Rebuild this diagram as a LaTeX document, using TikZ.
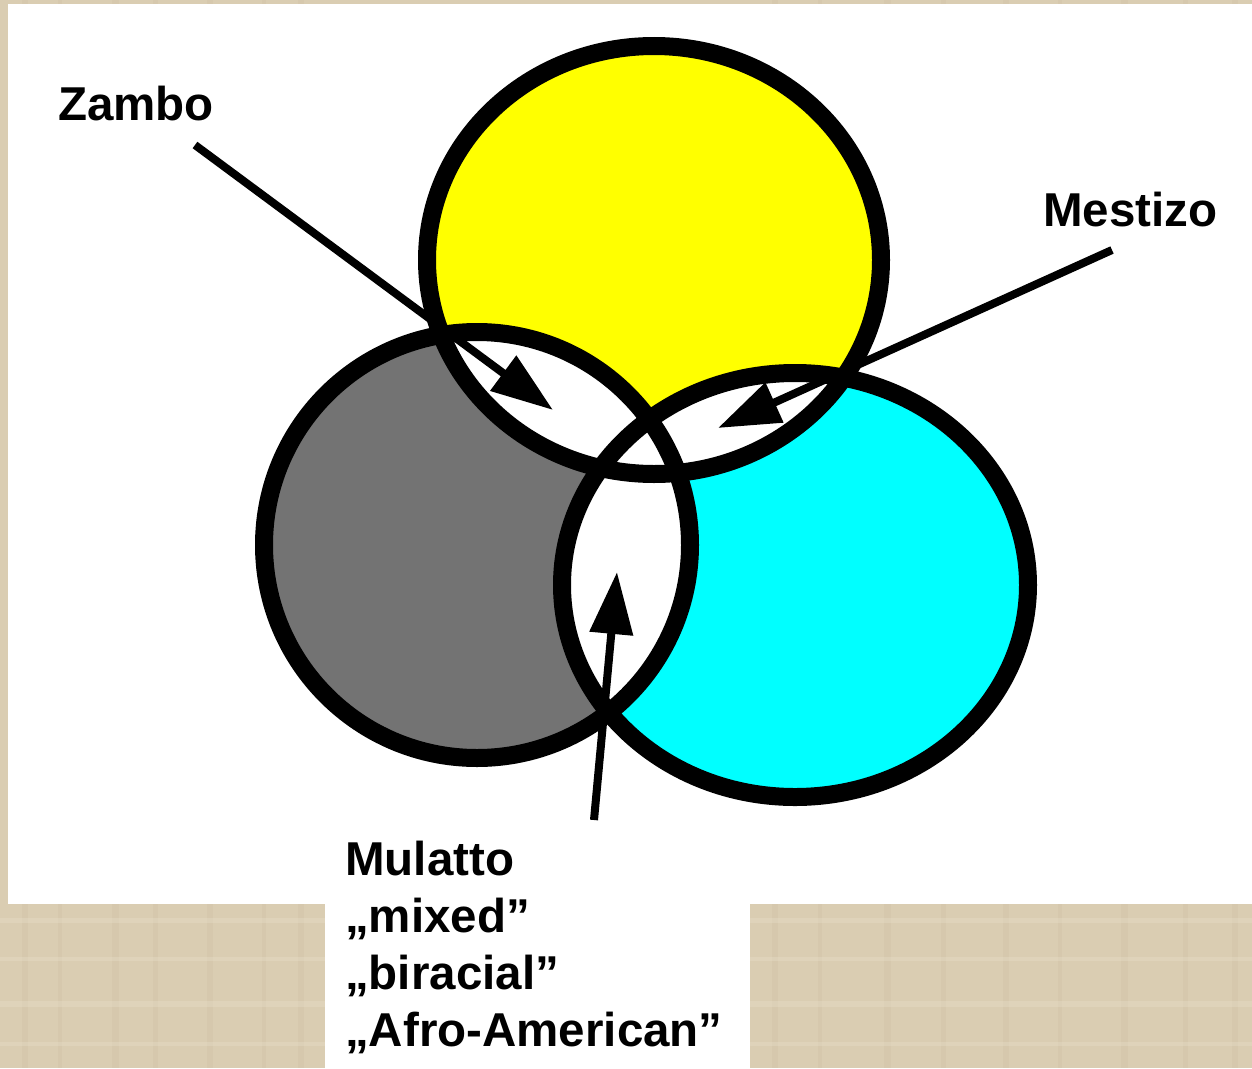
\documentclass[tikz,border=0pt]{standalone}
\usepackage{fontspec}
\setmainfont{Liberation Sans}
\usetikzlibrary{arrows.meta}
\definecolor{linen}{HTML}{DACDB2}
\definecolor{linendark}{HTML}{C9BA9C}
\definecolor{linenlight}{HTML}{EDE3CF}
\definecolor{ygold}{HTML}{FFFF00}
\definecolor{grayfill}{HTML}{737373}
\definecolor{cyanfill}{HTML}{00FFFF}
\tikzset{
  label/.style={inner sep=0pt, font=\fontsize{47.5}{57}\selectfont\bfseries, text=black},
  ring/.style={draw=black, line width=18pt},
  pointer/.style={draw=black, line width=8pt, -{Triangle[length=62pt,width=42pt]}},
}
\begin{document}
\begin{tikzpicture}[x=1pt,y=-1pt]
  \useasboundingbox (0,0) rectangle (1252,1068);
  % textured background
  \fill[linen] (0,0) rectangle (1252,1068);
  \foreach \xx/\ww in {22/6,58/4,112/7,153/5,207/6,262/4,298/6,772/6,818/4,884/7,941/5,1003/6,1058/4,1121/7,1183/5,1232/6}
    \fill[linendark, opacity=0.22] (\xx,0) rectangle ++(\ww,1068);
  \foreach \yy/\hh in {918/5,957/4,1001/6,1042/4}
    \fill[linenlight, opacity=0.3] (0,\yy) rectangle ++(1252,\hh);
  % white panels
  \fill[white] (8,4) rectangle (1252,904);
  \fill[white] (325,904) rectangle (750,1068);
  % circle fills
  \fill[ygold] (654,260) ellipse [x radius=227, y radius=214];
  \fill[grayfill] (477,545) ellipse [x radius=213, y radius=213];
  \fill[cyanfill] (795,585) ellipse [x radius=233, y radius=212];
  % white overlaps
  \begin{scope}
    \clip (654,260) ellipse [x radius=227, y radius=214];
    \fill[white] (477,545) ellipse [x radius=213, y radius=213];
    \fill[white] (795,585) ellipse [x radius=233, y radius=212];
  \end{scope}
  \begin{scope}
    \clip (477,545) ellipse [x radius=213, y radius=213];
    \fill[white] (795,585) ellipse [x radius=233, y radius=212];
  \end{scope}
  % outlines
  \draw[ring] (654,260) ellipse [x radius=227, y radius=214];
  \draw[ring] (477,545) ellipse [x radius=213, y radius=213];
  \draw[ring] (795,585) ellipse [x radius=233, y radius=212];
  % labels
  \node[label, anchor=base west] (zambo) at (58,120) {Zambo};
  \node[label, anchor=base west] (mestizo) at (1043,226) {Mestizo};
  \node[label, anchor=north west, align=left] (mulatto) at (345,841)
    {Mulatto\\„mixed”\\„biracial”\\„Afro-American”};
  % arrow ends
  \coordinate (zs) at (195,145);
  \coordinate (zt) at (553,410);
  \coordinate (ms) at (1112,250);
  \coordinate (mt) at (718,428);
  \coordinate (us) at (594,820);
  \coordinate (ut) at (617,572);
  \draw[pointer] (zs) -- (zt);
  \draw[pointer] (ms) -- (mt);
  \draw[pointer] (us) -- (ut);
\end{tikzpicture}
\end{document}
